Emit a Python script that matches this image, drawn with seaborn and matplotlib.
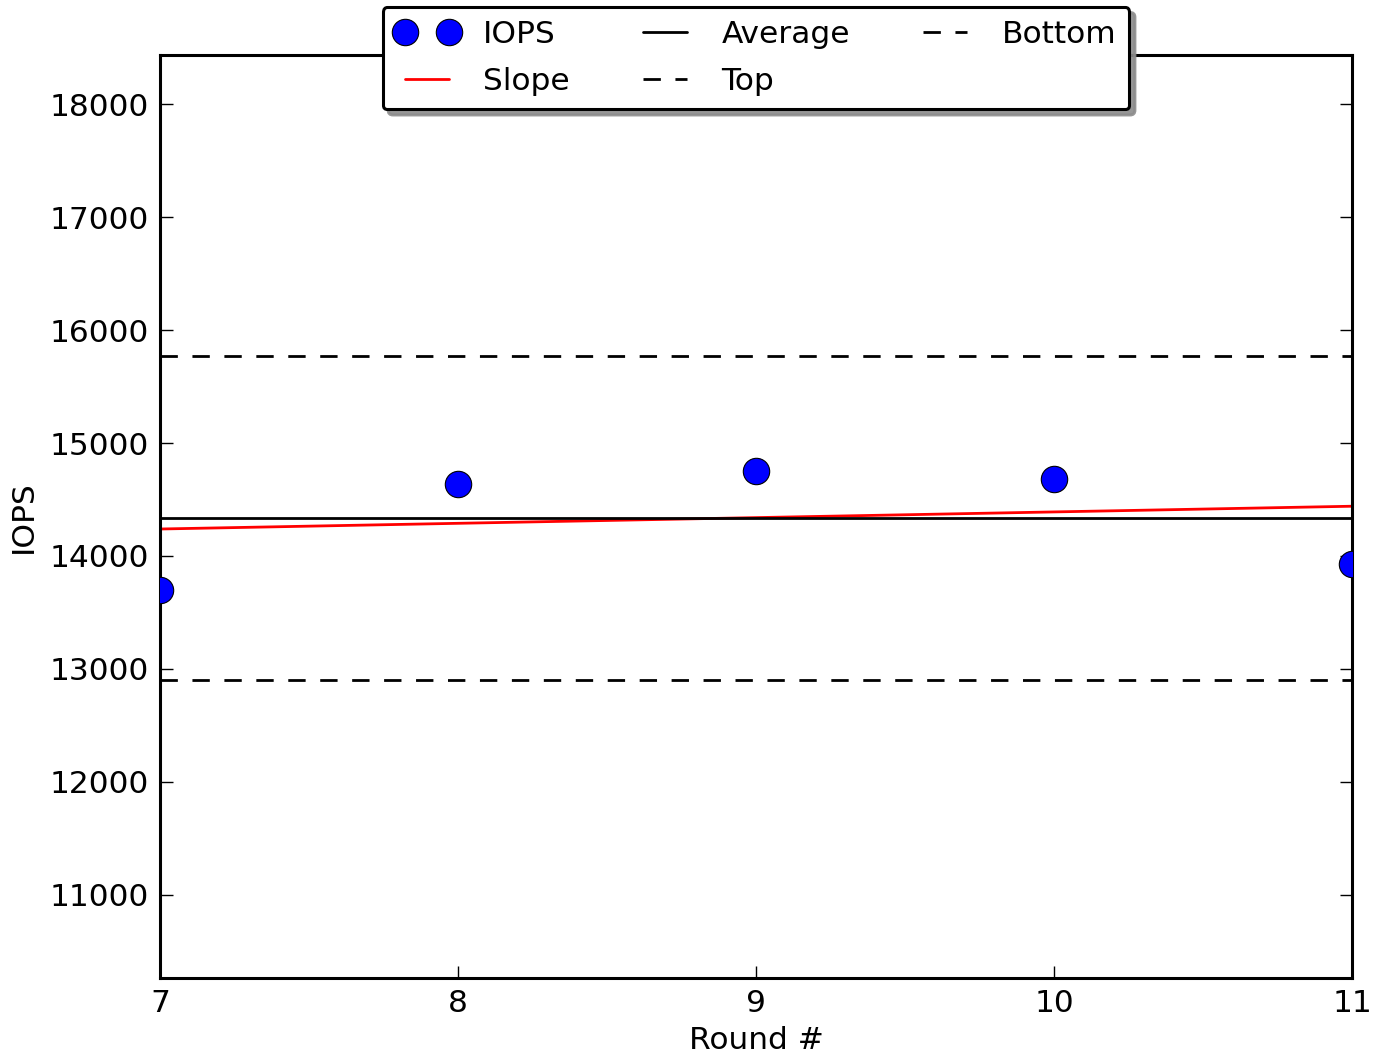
import numpy as np
import pandas as pd
import matplotlib
matplotlib.use("Agg")
import matplotlib.pyplot as plt
import seaborn as sns
from matplotlib.lines import Line2D

rounds = [7, 8, 9, 10, 11]
iops = [13699, 14637, 14752, 14681, 13929]

sns.set_style("white")
plt.rcParams['font.family'] = ['DejaVu Sans']
plt.rcParams['lines.scale_dashes'] = False
plt.rcParams['text.color'] = 'black'
plt.rcParams['axes.labelcolor'] = 'black'

fig = plt.figure(figsize=(13.74, 10.61), dpi=100)
ax = fig.add_axes([160/1374, 1-978/1061, (1352-160)/1374, (978-55)/1061])

df = pd.DataFrame({"Round": rounds, "IOPS": iops})
avg = float(np.mean(iops))
top = avg * 1.1
bottom = avg * 0.9
slope, intercept = np.polyfit(rounds, iops, 1)
xs = np.array([rounds[0], rounds[-1]])

dash = (0, (12.5, 10.5))
ax.plot(xs, slope * xs + intercept, color='red', lw=2)
sns.lineplot(x=xs, y=[avg, avg], color='black', lw=2, ax=ax)
sns.lineplot(x=xs, y=[top, top], color='black', lw=2, linestyle=dash, ax=ax)
sns.lineplot(x=xs, y=[bottom, bottom], color='black', lw=2, linestyle=dash, ax=ax)
sns.scatterplot(data=df, x="Round", y="IOPS", s=19**2, color='blue', edgecolor='black',
                linewidth=0.8, ax=ax, zorder=5, clip_on=True)

ax.set_xlim(7, 11)
ax.set_ylim(10265, 18434)
ax.set_xticks(rounds)
ax.set_yticks(range(11000, 18001, 1000))
ax.tick_params(direction='in', length=9, width=1, labelsize=22.5, top=True, right=True,
               bottom=True, left=True, pad=8, color='black', labelcolor='black')
for s in ax.spines.values():
    s.set_linewidth(2.2)
    s.set_color('black')
ax.set_xlabel("Round #", fontsize=22.5, labelpad=6, color='black')
ax.set_ylabel("IOPS", fontsize=22.5, labelpad=8, color='black')

handles = [
    Line2D([], [], marker='o', ls='none', markersize=19, markerfacecolor='blue', markeredgecolor='black', markeredgewidth=0.8),
    Line2D([], [], color='red', lw=2),
    Line2D([], [], color='black', lw=2),
    Line2D([], [], color='black', lw=2, ls=dash),
    Line2D([], [], color='black', lw=2, ls=dash),
]
labels = ["IOPS", "Slope", "Average", "Top", "Bottom"]
leg = fig.legend(handles, labels, ncol=3, loc='upper center', bbox_to_anchor=(756/1374, 1-7/1061),
                 borderaxespad=0, fontsize=22.5, numpoints=2,
                 shadow={'ox': 4, 'oy': -4, 'color': '0.55', 'alpha': 0.9}, fancybox=True,
                 frameon=True, framealpha=1, edgecolor='black', handlelength=2.0,
                 columnspacing=2.05, handletextpad=0.8, labelspacing=0.58, borderpad=0.42)
leg.get_frame().set_linewidth(2.2)
leg.get_frame().set_boxstyle('round', pad=0, rounding_size=0.15)
for t in leg.get_texts():
    t.set_color('black')

fig.savefig("out.png", dpi=100, facecolor='white')
